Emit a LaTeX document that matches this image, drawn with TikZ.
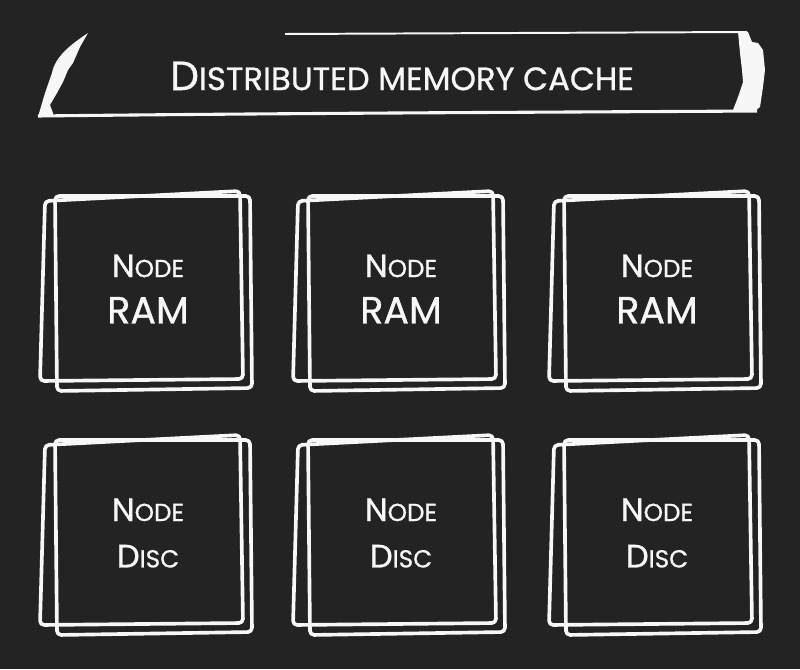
\documentclass[tikz,border=0pt]{standalone}
\usepackage{fontspec}
\setmainfont{Poppins}[FakeBold=0.8]
\usepackage{tikz}

\definecolor{board}{HTML}{232323}
\definecolor{chalk}{HTML}{F7F7F7}

\newcommand\capsize{\fontsize{23}{33}\selectfont}
\newcommand\lowsize{\fontsize{17.5}{33}\selectfont}
\newcommand\ramsize{\fontsize{27}{33}\selectfont}
\newcommand\headcap{\fontsize{29}{30}\selectfont}
\newcommand\headlow{\fontsize{23}{30}\selectfont}

\newcommand\chalkframe[1]{%
\draw [chalkline, shift={(#1.center)}] (-103,-88) -- (92,-98) -- (95,90) -- (-108,92) -- cycle;
\draw [chalkline, shift={(#1.center)}] (-93,-93) -- (102,-93) -- (104,99) -- (-91,102) -- cycle;}

\tikzset{
  chalkline/.style={chalk, line width=2.6pt, rounded corners=3pt, line join=round},
  boxtext/.style={text=chalk, align=center, font=\capsize},
}

\begin{document}
\begin{tikzpicture}[x=0.025cm, y=-0.025cm]
\fill [board] (0,0) rectangle (800,669);
\useasboundingbox (0,0) rectangle (800,669);

% banner
\draw [chalk, line width=1.4pt] (285,34) -- (747,32);
\draw [chalk, line width=2.2pt] (38,116) .. controls (300,113) and (600,112) .. (757,111);
\fill [chalk] (88,33) .. controls (70,45) and (55,57) .. (52,73) -- (45,93) -- (40,110) -- (38,117)
  -- (53,116) -- (53,113) -- (50,105) -- (57,93) -- (63,82) -- (68,70) -- (73,63) -- (80,47) -- cycle;
\fill [chalk] (738,32) -- (748,32) -- (752,42) -- (758,43) -- (763,50) -- (765,70) -- (763,87)
  -- (760,107) -- (755,111) -- (733,110) -- (738,97) -- (743,82) -- (742,70) -- (740,53) -- cycle;
\node (title) [text=chalk] at (402,76) {{\headcap D}{\headlow ISTRIBUTED MEMORY CACHE}};

% nodes
\node (ram1) [boxtext] at (148,289) {N{\lowsize ODE}\\{\ramsize RAM}};
\node (ram2) [boxtext] at (401,289) {N{\lowsize ODE}\\{\ramsize RAM}};
\node (ram3) [boxtext] at (657,289) {N{\lowsize ODE}\\{\ramsize RAM}};
\node (disc1) [boxtext] at (148,533) {N{\lowsize ODE}\\D{\lowsize ISC}};
\node (disc2) [boxtext] at (401,533) {N{\lowsize ODE}\\D{\lowsize ISC}};
\node (disc3) [boxtext] at (657,533) {N{\lowsize ODE}\\D{\lowsize ISC}};

\chalkframe{ram1}
\chalkframe{ram2}
\chalkframe{ram3}
\chalkframe{disc1}
\chalkframe{disc2}
\chalkframe{disc3}
\end{tikzpicture}
\end{document}
